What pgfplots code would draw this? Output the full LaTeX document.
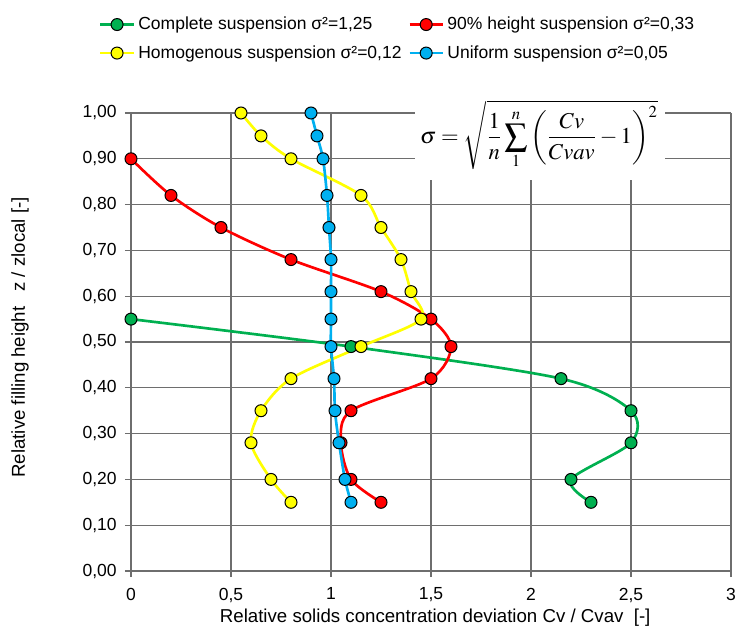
\documentclass[border=0pt]{standalone}
\usepackage{mathptmx}
\usepackage[no-math]{fontspec}
\setmainfont{Liberation Sans}
\usepackage{pgfplots}
\pgfplotsset{compat=1.18}

\definecolor{cgreen}{RGB}{0,176,80}
\definecolor{cred}{RGB}{255,0,0}
\definecolor{cyellow}{RGB}{255,255,0}
\definecolor{cblue}{RGB}{0,176,240}
\definecolor{gridc}{RGB}{110,110,110}

\pgfplotsset{
  susp/.style={color=#1, line width=1.6pt, smooth, tension=0.5, mark=*, mark size=3.6pt,
    mark options={fill=#1, draw=black, line width=0.6pt}},
}

\begin{document}
\begin{tikzpicture}
\begin{axis}[
  name=ax,
  scale only axis,
  width=360pt, height=274.8pt,
  xmin=0, xmax=3, ymin=0, ymax=1,
  xtick={0,0.5,1,1.5,2,2.5,3},
  ytick={0,0.1,0.2,0.3,0.4,0.5,0.6,0.7,0.8,0.9,1},
  axis lines=left,
  axis line style={-, color=gridc, line width=0.8pt},
  grid=major,
  major grid style={color=gridc, line width=0.8pt},
  tick style={color=gridc, line width=0.8pt},
  tick align=outside,
  major tick length=3.6pt,
  x tick label style={yshift=-3pt, /pgf/number format/.cd, use comma, fixed, precision=1, assume math mode=true},
  y tick label style={xshift=-1.5pt, /pgf/number format/.cd, use comma, fixed, fixed zerofill, precision=2, assume math mode=true},
  ticklabel style={font=\fontsize{10.5}{12}\selectfont},
  xlabel={Relative solids concentration deviation Cv / Cvav\ \ [-]},
  ylabel={Relative filling height\hspace{0.8em}z / zlocal [-]},
  label style={font=\fontsize{11.2}{13}\selectfont},
  xlabel style={at={(axis description cs:0.507,-0.1026)}, anchor=center},
  ylabel style={at={(axis description cs:-0.185,0.51)}, anchor=center},
  clip=false,
  legend columns=2,
  legend cell align=left,
  legend style={draw=none, fill=none, font=\fontsize{10.5}{12}\selectfont,
    at={(axis description cs:-0.062,1.162)}, anchor=west,
    row sep=4pt,
    /tikz/every even column/.append style={column sep=2pt}},
  legend image code/.code={\draw[mark repeat=2,mark phase=2] plot coordinates {(0cm,0cm) (0.35cm,0cm) (0.7cm,0cm)};},
]
\addplot[susp=cgreen] coordinates {
(0,0.55) (1.1,0.49) (2.15,0.42) (2.5,0.35) (2.5,0.28) (2.2,0.20) (2.3,0.15)};
\addlegendentry{Complete suspension σ²=1,25}
\addplot[susp=cred] coordinates {
(0,0.90) (0.2,0.82) (0.45,0.75) (0.8,0.68) (1.25,0.61) (1.5,0.55) (1.6,0.49)
(1.5,0.42) (1.1,0.35) (1.05,0.28) (1.1,0.20) (1.25,0.15)};
\addlegendentry{90\% height suspension σ²=0,33}
\addplot[susp=cyellow] coordinates {
(0.55,1.00) (0.65,0.95) (0.8,0.90) (1.15,0.82) (1.25,0.75) (1.35,0.68) (1.4,0.61)
(1.45,0.55) (1.15,0.49) (0.8,0.42) (0.65,0.35) (0.6,0.28) (0.7,0.20) (0.8,0.15)};
\addlegendentry{Homogenous suspension σ²=0,12}
\addplot[susp=cblue] coordinates {
(0.9,1.00) (0.93,0.95) (0.96,0.90) (0.98,0.82) (0.99,0.75) (1.0,0.68) (1.0,0.61)
(1.0,0.55) (1.0,0.49) (1.015,0.42) (1.02,0.35) (1.04,0.28) (1.07,0.20) (1.1,0.15)};
\addlegendentry{Uniform suspension σ²=0,05}
% formula box
\node[fill=white, inner sep=0pt, minimum width=150pt, minimum height=51pt] at (axis cs:2.045,0.9465) {};
\node[inner sep=0pt, font=\fontsize{13.6}{16}\selectfont] at (axis cs:2.04,0.952)
  {$\displaystyle \sigma=\sqrt{\frac{1}{n}\sum_{1}^{n}\left(\frac{Cv}{Cvav}-1\right)^{2}}$};
\end{axis}
\pgfresetboundingbox
\path[use as bounding box] ([xshift=-78.6pt,yshift=-35.4pt]ax.south west) rectangle ([xshift=4.2pt,yshift=67.8pt]ax.north east);
\end{tikzpicture}
\end{document}
